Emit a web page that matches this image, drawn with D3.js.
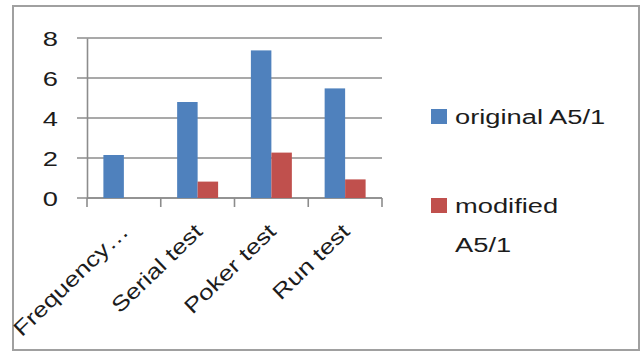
<!doctype html>
<html>
<head>
  <style>
    body { margin:0; background:#fff; }
    svg text { font-family:"Liberation Sans", Arial, sans-serif; fill:#1c1c1c; }
  </style>
  <script src="https://d3js.org/d3.v7.min.js"></script>
</head>
<body>
  <script type="text/javascript">
    // chart values
    var categories = ["Frequency\u2026", "Serial test", "Poker test", "Run test"];
    var seriesNames = ["original A5/1", "modified A5/1"];
    var original = [2.15, 4.8, 7.38, 5.48];
    var modified = [0, 0.82, 2.27, 0.93];
    var yTicks = [0, 2, 4, 6, 8];
    var colors = ["#4f81bd", "#c0504d"];

    var W = 640, H = 351;
    var plotLeft = 87, plotRight = 382, plotTop = 38, plotBottom = 198;
    var sx = 1.3; // picture is a bit wide, text is stretched the same way

    var svg = d3.select("body").append("svg")
      .attr("width", W)
      .attr("height", H);

    // outer frame
    svg.append("rect")
      .attr("x", 13).attr("y", 6)
      .attr("width", 626).attr("height", 344)
      .attr("fill", "#fff")
      .attr("stroke", "#a0a0a0")
      .attr("stroke-width", 2);

    var x0 = d3.scaleBand().domain(categories).range([plotLeft, plotRight]).padding(0);
    var x1 = d3.scaleBand().domain(seriesNames).range([0, x0.bandwidth()])
      .paddingInner(0).paddingOuter(0.8);
    var y = d3.scaleLinear().domain([0, 8]).range([plotBottom, plotTop]);

    // gridlines (they poke out left of the axis like ticks)
    svg.append("g").selectAll("line")
      .data(yTicks)
      .join("line")
        .attr("x1", plotLeft - 10).attr("x2", plotRight)
        .attr("y1", function(d) { return y(d); })
        .attr("y2", function(d) { return y(d); })
        .attr("stroke", "#8c8c8c")
        .attr("stroke-width", 1.6);

    // y axis
    var yAxis = svg.append("g")
      .attr("transform", "translate(" + plotLeft + ",0)")
      .call(d3.axisLeft(y).tickValues(yTicks).tickSize(0).tickSizeOuter(0));
    yAxis.select(".domain").attr("stroke", "#8c8c8c").attr("stroke-width", 1.6);
    yAxis.selectAll(".tick text")
      .attr("x", 0).attr("dy", null)
      .attr("text-anchor", "end")
      .style("font-size", "21px")
      .attr("transform", "translate(-29,7.5) scale(" + sx + ",1)");

    // x axis with ticks at band edges
    var xAxis = svg.append("g")
      .attr("transform", "translate(0," + plotBottom + ")");
    xAxis.append("line")
      .attr("x1", plotLeft).attr("x2", plotRight)
      .attr("stroke", "#8c8c8c").attr("stroke-width", 1.6);
    xAxis.selectAll("line.edge")
      .data(d3.range(categories.length + 1))
      .join("line")
        .attr("class", "edge")
        .attr("x1", function(i) { return plotLeft + i * x0.step(); })
        .attr("x2", function(i) { return plotLeft + i * x0.step(); })
        .attr("y1", 0).attr("y2", 9)
        .attr("stroke", "#8c8c8c").attr("stroke-width", 1.6);

    xAxis.selectAll("text")
      .data(categories)
      .join("text")
        .attr("text-anchor", "end")
        .style("font-size", "21px")
        .attr("transform", function(d) {
          var cx = x0(d) + x0.bandwidth() / 2;
          return "translate(" + (cx + 6) + ",35) rotate(-44) scale(1.25,1)";
        })
        .text(function(d) { return d; });

    // bars
    var rows = categories.map(function(c, i) {
      return { cat: c, vals: [original[i], modified[i]] };
    });

    svg.append("g").selectAll("g")
      .data(rows)
      .join("g")
        .attr("transform", function(d) { return "translate(" + x0(d.cat) + ",0)"; })
      .selectAll("rect")
      .data(function(d) {
        return d.vals.map(function(v, j) { return { name: seriesNames[j], v: v, j: j }; })
          .filter(function(e) { return e.v > 0; });
      })
      .join("rect")
        .attr("x", function(d) { return x1(d.name); })
        .attr("width", x1.bandwidth())
        .attr("y", function(d) { return y(d.v); })
        .attr("height", function(d) { return y(0) - y(d.v); })
        .attr("fill", function(d) { return colors[d.j]; });

    // legend
    var legendRows = [
      { lines: ["original A5/1"], y: 109, c: colors[0] },
      { lines: ["modified", "A5/1"], y: 198, c: colors[1] }
    ];
    var lg = svg.append("g").selectAll("g")
      .data(legendRows)
      .join("g");
    lg.append("rect")
      .attr("x", 431).attr("y", function(d) { return d.y; })
      .attr("width", 16).attr("height", 15)
      .attr("fill", function(d) { return d.c; });
    lg.each(function(d) {
      d3.select(this).selectAll("text")
        .data(d.lines)
        .join("text")
          .style("font-size", "21px")
          .attr("transform", function(t, k) {
            return "translate(455," + (d.y + 15 + k * 39) + ") scale(" + sx + ",1)";
          })
          .text(function(t) { return t; });
    });
  </script>
</body>
</html>
